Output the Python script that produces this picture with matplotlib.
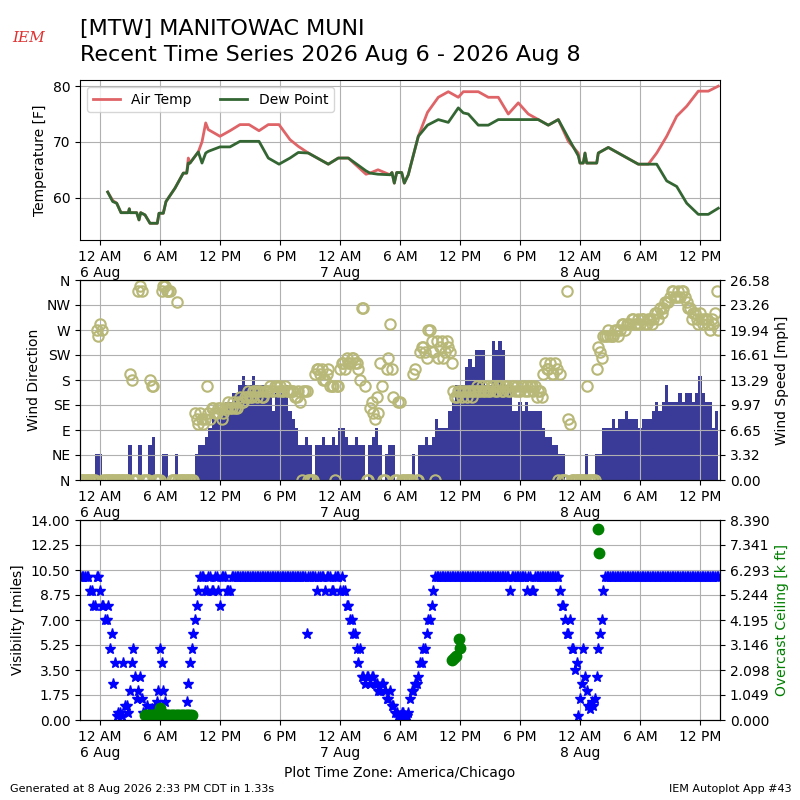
import numpy as np
import pandas as pd
import matplotlib
matplotlib.use("Agg")
import matplotlib.pyplot as plt
import matplotlib.dates as mdates
from matplotlib.ticker import FuncFormatter

# --- temperature / dew point, hours after 2026-08-06 00:00 ---
temp_hours = [0.77, 1.27, 1.67, 2.1, 2.83, 2.93, 3.0, 3.67, 3.9, 4.07, 4.5, 5.0, 5.73, 5.9,
              6.33, 6.6, 7.5, 8.33, 8.67, 8.83, 9.0, 9.83, 10.2, 10.57, 10.83, 12.0, 13.0,
              14.0, 14.9, 15.9, 16.83, 17.9, 19.0, 19.83, 20.83, 22.83, 23.83, 24.83, 26.6,
              27.0, 27.8, 29.0, 29.2, 29.43, 29.67, 30.17, 30.43, 30.83, 31.0, 31.83, 32.75,
              33.83, 34.83, 35.83, 36.33, 36.83, 37.83, 38.83, 39.83, 40.83, 41.83, 42.83,
              43.83, 44.83, 45.83, 46.83, 47.83, 48.0, 48.33, 48.5, 48.67, 49.67, 49.83,
              50.83, 53.83, 54.83, 55.67, 56.67, 57.67, 58.67, 59.83, 60.83, 61.83]
air_temp = [61.0, 59.5, 59.0, 57.3, 57.3, 58.0, 57.3, 57.3, 56.0, 57.3, 56.9, 55.4, 55.4, 57.2,
            57.2, 59.3, 61.7, 64.4, 64.4, 67.1, 66.2, 68.2, 70.0, 73.4, 72.2, 71.0, 72.0,
            73.1, 73.1, 72.0, 73.1, 73.1, 70.4, 69.2, 68.0, 66.0, 67.1, 67.1, 64.2,
            64.4, 65.0, 64.1, 64.5, 62.6, 64.5, 64.5, 62.6, 64.1, 65.3, 71.0, 75.3,
            78.0, 79.0, 78.0, 79.0, 79.0, 79.0, 78.0, 78.0, 75.0, 77.0, 75.0,
            74.0, 73.0, 74.0, 70.1, 68.0, 66.2, 66.2, 68.0, 66.2, 66.2, 68.0,
            69.0, 66.0, 66.0, 68.0, 71.0, 74.6, 76.4, 79.1, 79.1, 80.0]
dew_point = [61.0, 59.3, 59.0, 57.3, 57.3, 58.0, 57.3, 57.3, 56.0, 57.3, 56.9, 55.4, 55.4, 57.2,
             57.2, 59.3, 61.7, 64.4, 64.4, 66.2, 66.2, 68.2, 66.2, 68.0, 68.3, 69.1, 69.1,
             70.1, 70.1, 70.1, 67.1, 66.0, 67.1, 68.1, 68.0, 66.0, 67.1, 67.1, 64.8,
             64.4, 64.2, 64.1, 64.5, 62.6, 64.5, 64.5, 62.6, 64.1, 65.3, 71.0, 73.0,
             74.0, 73.5, 76.1, 75.2, 75.0, 73.0, 73.0, 74.0, 74.0, 74.0, 74.0,
             74.0, 73.0, 74.0, 70.7, 67.5, 66.2, 66.2, 68.0, 66.2, 66.2, 68.0,
             69.0, 66.0, 66.0, 66.0, 63.0, 62.0, 59.0, 57.0, 57.0, 58.1]

# --- wind + visibility, every 20 minutes from 2026-08-05 22:00 ---
wind_speed_kt = [
    0, 0, 0, 0, 0, 3, 3, 0, 0, 0, 0, 0,
    0, 0, 0, 4, 0, 0, 4, 0, 0, 4, 5, 0,
    0, 3, 3, 0, 0, 3, 0, 0, 0, 0, 0, 3,
    4, 4, 5, 6, 7, 7, 8, 8, 9, 9, 10, 10,
    11, 12, 11, 11, 12, 11, 11, 11, 10, 10, 8, 10,
    10, 10, 11, 8, 7, 6, 4, 4, 5, 4, 0, 4,
    4, 5, 4, 4, 5, 4, 6, 6, 5, 4, 4, 5,
    4, 4, 0, 4, 5, 6, 4, 0, 3, 4, 4, 0,
    0, 0, 0, 0, 3, 0, 4, 4, 5, 4, 5, 7,
    6, 6, 6, 8, 9, 11, 11, 11, 13, 14, 13, 15,
    15, 15, 11, 11, 16, 15, 16, 15, 11, 11, 8, 8,
    9, 8, 9, 8, 8, 8, 8, 6, 5, 5, 4, 4,
    3, 3, 0, 0, 0, 0, 0, 0, 3, 0, 0, 3,
    3, 6, 6, 6, 7, 6, 7, 7, 8, 7, 7, 7,
    6, 7, 7, 7, 8, 9, 8, 9, 11, 9, 9, 9,
    10, 9, 10, 10, 9, 10, 12, 10, 9, 9, 6, 8,
]
wind_dir = [
    0, 0, 0, 0, 0, 270, 280, 0, 0, 0, 0, 0,
    0, 0, 0, 190, 0, 0, 350, 0, 0, 180, 170, 0,
    0, 350, 340, 340, 0, 320, 0, 0, 0, 0, 0, 110,
    120, 100, 170, 110, 130, 120, 130, 120, 130, 130, 140, 130,
    150, 140, 150, 150, 160, 150, 160, 150, 160, 170, 160, 170,
    170, 160, 160, 160, 160, 150, 140, 160, 160, 0, 0, 200,
    190, 180, 190, 170, 170, 170, 200, 210, 220, 210, 220, 210,
    180, 310, 0, 130, 120, 150, 210, 0, 200, 280, 150, 0,
    140, 0, 0, 0, 190, 0, 230, 240, 220, 270, 230, 250,
    240, 220, 250, 230, 160, 150, 160, 160, 150, 160, 160, 170,
    160, 160, 170, 160, 170, 160, 170, 160, 170, 160, 170, 170,
    160, 170, 170, 170, 160, 150, 160, 190, 200, 210, 190, 200,
    190, 0, 340, 100, 0, 0, 0, 0, 170, 0, 0, 200,
    230, 260, 260, 260, 260, 270, 270, 280, 280, 280, 290, 280,
    280, 290, 280, 290, 290, 300, 310, 310, 320, 330, 340, 330,
    330, 340, 320, 310, 300, 290, 300, 280, 290, 270, 280, 340,
]
visibility = [
    10, 10, 10, 9, 8, 10, 9, 8, 7, 5, 2.5, 0.25,
    0.5, 4, 1, 2, 5, 1.5, 3, 0.5, 1, 0.5, 0.5, 1.25,
    5, 2, 0.25, 0.25, 0.25, 0.25, 0.25, 0.25, 1.25, 4, 6, 8,
    10, 10, 9, 10, 9, 10, 8, 10, 9, 9, 10, 10,
    10, 10, 10, 10, 10, 10, 10, 10, 10, 10, 10, 10,
    10, 10, 10, 10, 10, 10, 10, 10, 6, 10, 10, 9,
    10, 10, 10, 10, 9, 10, 9, 9, 8, 7, 6, 5,
    5, 3, 3, 2.5, 3, 2.5, 2, 2.5, 1.5, 2, 1, 0.5,
    0.25, 0.5, 0.25, 1.5, 2, 2.5, 4, 5, 6, 7, 9, 10,
    10, 10, 10, 10, 10, 10, 10, 10, 10, 10, 10, 10,
    10, 10, 10, 10, 10, 10, 10, 10, 10, 9, 10, 10,
    10, 10, 9, 10, 9, 10, 10, 10, 10, 10, 10, 10,
    9, 8, 6, 7, 5, 4, 1.5, 5, 2, 0.75, 1, 3,
    6, 9, 10, 10, 10, 10, 10, 10, 10, 10, 10, 10,
    10, 10, 10, 10, 10, 10, 10, 10, 10, 10, 10, 10,
    10, 10, 10, 10, 10, 10, 10, 10, 10, 10, 10, 10,
]

# --- in-between reports, 10 minutes after each of the above ---
wind_dir_mid = [
    0, 0, 0, 0, 0, 260, 270, 0, 0, 0, 0, 0,
    0, 0, 0, 180, 0, 340, 340, 0, 0, 170, 0, 0,
    340, 350, 340, 0, 0, 0, 0, 0, 0, 0, 120, 100,
    110, 110, 120, 130, 120, 130, 110, 130, 140, 130, 130, 140,
    140, 150, 160, 150, 160, 160, 150, 160, 160, 160, 170, 160,
    160, 170, 160, 160, 150, 160, 0, 160, 0, 0, 190, 200,
    200, 180, 200, 170, 0, 170, 210, 200, 210, 220, 210, 200,
    310, 170, 0, 140, 110, 120, 170, 0, 220, 200, 0, 140,
    0, 0, 0, 0, 200, 0, 240, 230, 270, 250, 0, 220,
    250, 230, 240, 210, 150, 160, 150, 160, 160, 150, 160, 160,
    170, 160, 160, 170, 160, 170, 160, 170, 160, 170, 160, 160,
    170, 160, 160, 170, 170, 160, 150, 210, 200, 190, 210, 0,
    0, 0, 110, 0, 0, 0, 0, 0, 0, 0, 0, 240,
    220, 260, 270, 260, 270, 260, 280, 270, 280, 290, 280, 290,
    290, 280, 290, 280, 300, 290, 300, 320, 320, 340, 330, 340,
    340, 330, 310, 290, 300, 280, 290, 290, 280, 290, 300, 270,
]
visibility_mid = [
    10, 10, 10, 9, 8, 10, 8, 7, 8, 6, 4, 0.5,
    0.25, 1, 0.5, 4, 3, 2, 1.5, 0.5, 0.25, 0.75, 1, 2,
    4, 1.25, 0.25, 0.25, 0.25, 0.25, 0.25, 0.25, 2.5, 5, 7, 9,
    10, 9, 10, 9, 10, 9, 10, 10, 9, 10, 10, 10,
    10, 10, 10, 10, 10, 10, 10, 10, 10, 10, 10, 10,
    10, 10, 10, 10, 10, 10, 10, 10, 10, 10, 10, 10,
    10, 9, 10, 9, 10, 10, 10, 9, 8, 7, 6, 4,
    3, 2.5, 3, 3, 2.5, 2, 2.5, 2, 1.5, 1, 0.5, 0.25,
    0.5, 0.25, 0.5, 2, 2.5, 3, 4, 5, 7, 8, 10, 10,
    10, 10, 10, 10, 10, 10, 10, 10, 10, 10, 10, 10,
    10, 10, 10, 10, 10, 10, 10, 10, 10, 10, 10, 10,
    10, 10, 10, 9, 10, 10, 10, 10, 10, 10, 10, 10,
    8, 7, 6, 5, 3.5, 0.25, 2.5, 3, 1, 1.25, 1.5, 5,
    7, 10, 10, 10, 10, 10, 10, 10, 10, 10, 10, 10,
    10, 10, 10, 10, 10, 10, 10, 10, 10, 10, 10, 10,
    10, 10, 10, 10, 10, 10, 10, 10, 10, 10, 10, 10,
]

# --- overcast ceiling, hours after 2026-08-06 00:00 ---
ceil_hours = [4.5, 4.67, 4.83, 5.0, 5.17, 5.33, 5.5, 5.67, 5.83, 6.0, 6.17, 6.33, 6.5,
              6.67, 6.83, 7.0, 7.17, 7.33, 7.5, 7.67, 7.83, 8.0, 8.17, 8.33, 8.5, 8.67,
              8.83, 9.0, 9.17, 35.17, 35.42, 35.58, 35.92, 36.0, 49.83, 49.92]
ceil_kft = [0.2, 0.2, 0.2, 0.2, 0.2, 0.2, 0.2, 0.2, 0.3, 0.5, 0.3, 0.2, 0.2,
            0.2, 0.2, 0.2, 0.2, 0.2, 0.2, 0.2, 0.2, 0.2, 0.2, 0.2, 0.2, 0.2,
            0.2, 0.2, 0.2, 2.5, 2.6, 2.7, 3.4, 3.0, 8.0, 7.0]

base = pd.Timestamp("2026-08-06 00:00")
temp_times = base + pd.to_timedelta(temp_hours, unit="h")
ceil_times = base + pd.to_timedelta(ceil_hours, unit="h")
wind_times = pd.date_range("2026-08-05 22:00", periods=len(wind_speed_kt), freq="20min")
mid_times = wind_times + pd.Timedelta(minutes=10)
wind_mph = np.array(wind_speed_kt) * 1.15078


def time_label(x, pos):
    d = mdates.num2date(x)
    s = d.strftime("%-I %p")
    if d.hour == 0:
        s += "\n%d %s" % (d.day, d.strftime("%b"))
    return s


def setup_time_axis(ax):
    ax.set_xlim(pd.Timestamp("2026-08-05 22:00"), pd.Timestamp("2026-08-08 14:00"))
    ax.xaxis.set_major_locator(mdates.HourLocator(byhour=[0, 6, 12, 18]))
    ax.xaxis.set_major_formatter(FuncFormatter(time_label))
    ax.grid(True)


fig = plt.figure(figsize=(8, 8), dpi=100)

fig.text(0.1, 0.964, "[MTW] MANITOWAC MUNI", fontsize=16, va="center")
fig.text(0.1, 0.931, "Recent Time Series 2026 Aug 6 - 2026 Aug 8", fontsize=16, va="center")
fig.text(0.036, 0.952, "IEM", fontsize=11, color="#e03030", family="DejaVu Serif",
         style="italic", ha="center", va="center")

# temperature panel
ax1 = fig.add_axes([0.1, 0.7, 0.8, 0.2])
ax1.plot(temp_times, air_temp, color="#df6468", lw=2, label="Air Temp")
ax1.plot(temp_times, dew_point, color="#336633", lw=2, label="Dew Point")
ax1.set_ylim(52.4, 81.1)
ax1.set_yticks([60, 70, 80])
ax1.set_ylabel("Temperature [F]")
setup_time_axis(ax1)
ax1.legend(loc=2, ncol=2)

# wind panel
ax2 = fig.add_axes([0.1, 0.4, 0.8, 0.25])
ax2b = ax2.twinx()
ax2b.bar(wind_times, wind_mph, width=1.0 / 72, color="#3a3a98", lw=0)
ax2b.set_ylim(0, 26.583)
ax2b.set_yticks(np.linspace(0, 26.583, 9))
ax2b.yaxis.set_major_formatter(FuncFormatter(lambda v, p: "%.2f" % v))
ax2b.set_ylabel("Wind Speed [mph]")
ax2.set_zorder(ax2b.get_zorder() + 1)
ax2.patch.set_visible(False)
ax2.plot(wind_times, wind_dir, "o", mfc="none", mec="#b8b878", ms=7.5, mew=1.5)
ax2.plot(mid_times, wind_dir_mid, "o", mfc="none", mec="#b8b878", ms=7.5, mew=1.5)
ax2.set_ylim(0, 360)
ax2.set_yticks(range(0, 361, 45))
ax2.set_yticklabels(["N", "NE", "E", "SE", "S", "SW", "W", "NW", "N"])
ax2.set_ylabel("Wind Direction")
setup_time_axis(ax2)

# visibility / ceiling panel
ax3 = fig.add_axes([0.1, 0.1, 0.8, 0.25])
ax3.plot(wind_times, visibility, "*", color="b", ms=8)
ax3.plot(mid_times, visibility_mid, "*", color="b", ms=8)
ax3.set_ylim(0, 14)
ax3.set_yticks(np.arange(0, 14.01, 1.75))
ax3.yaxis.set_major_formatter(FuncFormatter(lambda v, p: "%.2f" % v))
ax3.set_ylabel("Visibility [miles]")
setup_time_axis(ax3)
ax3b = ax3.twinx()
ax3b.plot(ceil_times, ceil_kft, "o", color="g", ms=7.5)
ax3b.set_ylim(0, 8.3902)
ax3b.set_yticks(np.linspace(0, 8.3902, 9))
ax3b.yaxis.set_major_formatter(FuncFormatter(lambda v, p: "%.3f" % v))
ax3b.set_ylabel("Overcast Ceiling [k ft]", color="g")
ax3b.set_xlim(ax3.get_xlim())

fig.text(0.5, 0.034, "Plot Time Zone: America/Chicago", ha="center", va="center", fontsize=10)
fig.text(0.012, 0.014, "Generated at 8 Aug 2026 2:33 PM CDT in 1.33s", fontsize=8, va="center")
fig.text(0.99, 0.014, "IEM Autoplot App #43", fontsize=8, ha="right", va="center")

fig.savefig("out.png", dpi=100)
